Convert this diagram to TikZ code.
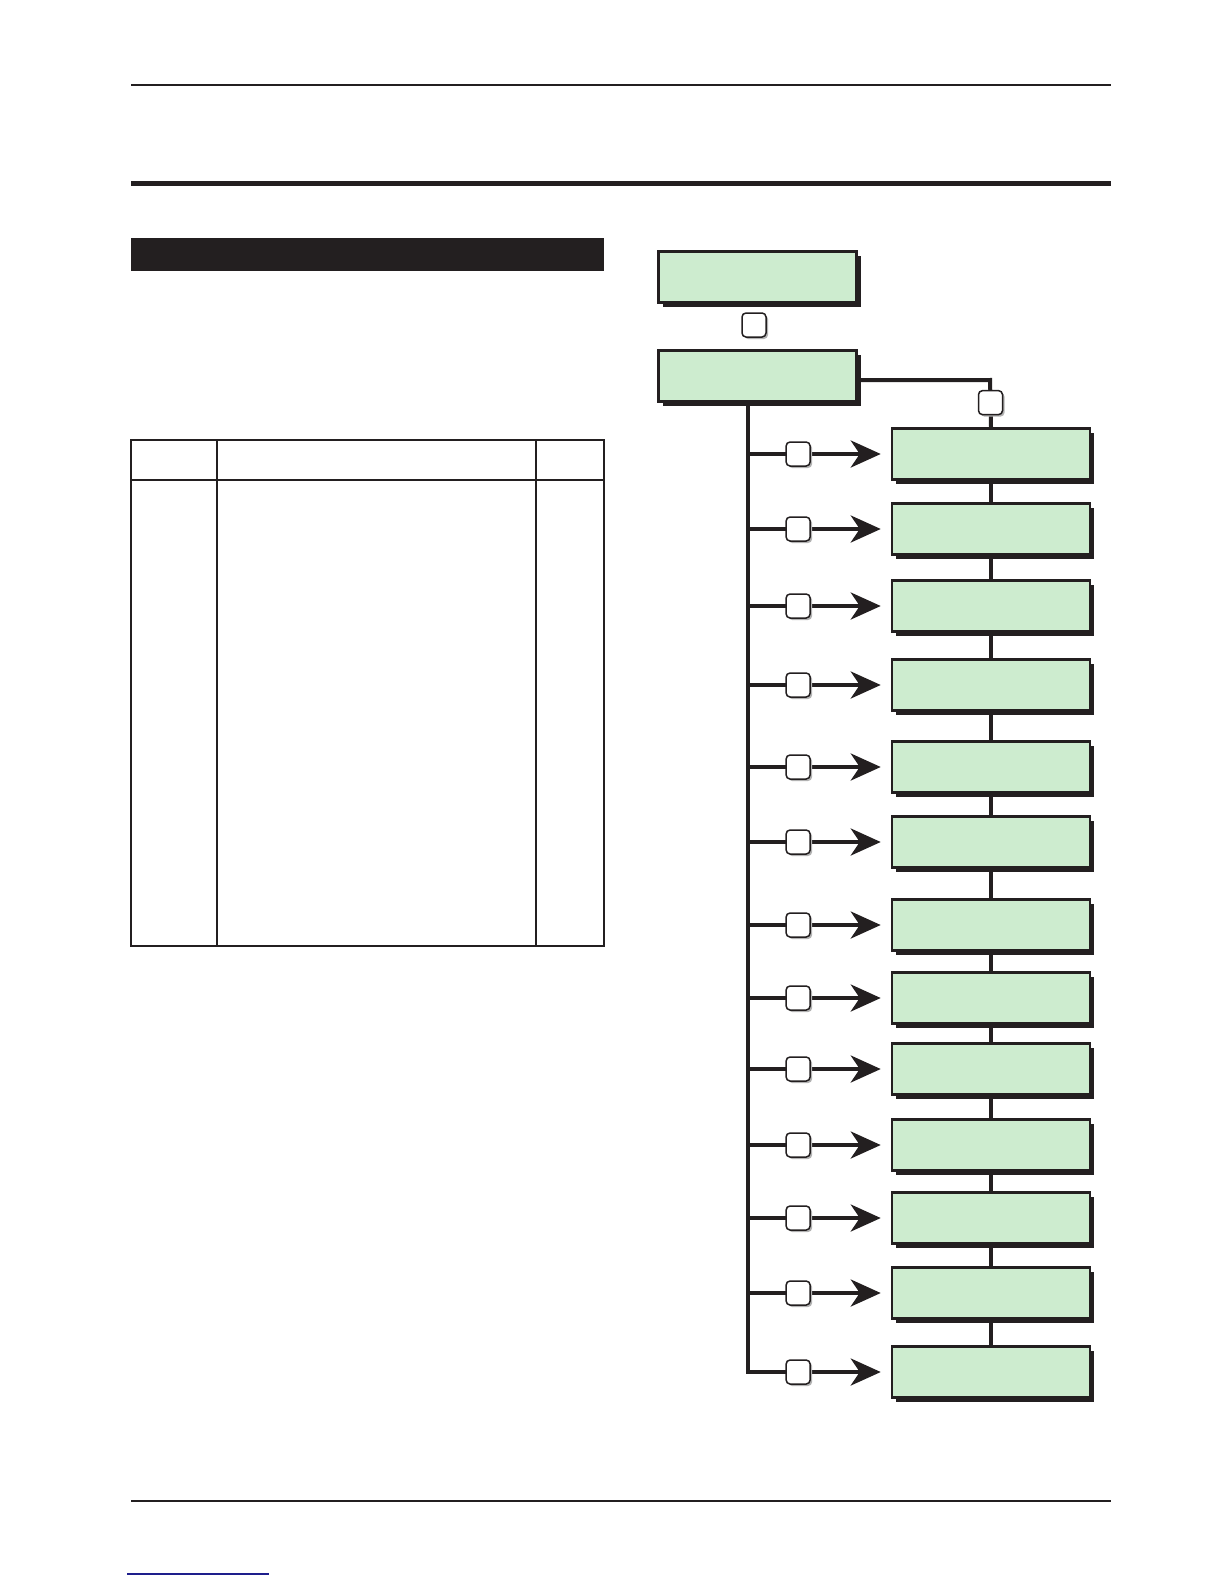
\documentclass[tikz,border=0pt]{standalone}
\usetikzlibrary{arrows.meta,shadows}
\definecolor{boxgreen}{RGB}{205,236,207}
\definecolor{ink}{RGB}{35,31,32}
\definecolor{linkblue}{RGB}{30,30,140}
\tikzset{
  gbox/.style={draw=ink, line width=2.5pt, fill=boxgreen, minimum width=198pt, minimum height=51pt, inner sep=0pt,
    drop shadow={shadow xshift=4pt, shadow yshift=-4pt, fill=ink, opacity=1}},
  sq/.style={draw=ink, line width=1.5pt, fill=white, rounded corners=4pt, minimum size=24pt, inner sep=0pt,
    drop shadow={shadow xshift=2pt, shadow yshift=-2pt, fill=gray!60, opacity=1}},
  conn/.style={draw=ink, line width=4pt},
  arr/.style={conn, -{Stealth[length=30pt,width=27pt,inset=9pt]}, shorten >=10pt},
  rule/.style={draw=ink, line width=1.2pt}
}
\begin{document}
\begin{tikzpicture}[x=1pt,y=-1pt]
\useasboundingbox (0,0) rectangle (1224,1584);
% page rules
\coordinate (tl1) at (131,85); \coordinate (tr1) at (1111,85);
\draw[draw=ink, line width=2pt] (tl1) -- (tr1);
\coordinate (tl2) at (131,183); \coordinate (tr2) at (1111,183);
\draw[draw=ink, line width=5pt] (tl2) -- (tr2);
\coordinate (bl) at (131,1501); \coordinate (br) at (1111,1501);
\draw[draw=ink, line width=2pt] (bl) -- (br);
\coordinate (ll) at (127,1574); \coordinate (lr) at (269,1574);
\draw[draw=linkblue, line width=1.2pt] (ll) -- (lr);
% black title bar
\fill[ink] (131,238) rectangle (604,271);
% table
\draw[rule] (131,440) rectangle (604,946);
\draw[rule] (217,440) -- (217,946);
\draw[rule] (536,440) -- (536,946);
\draw[rule] (131,480) -- (604,480);
% flowchart
\node[gbox] (b1) at (757.5,277) {};
\node[sq] (s0) at (754,325) {};
\node[gbox] (b2) at (757.5,376) {};
\foreach \i/\y in {1/454,2/529,3/606,4/685,5/767,6/842,7/925,8/998,9/1069,10/1145,11/1218,12/1293,13/1372}{
  \node[gbox] (r\i) at (991,\y) {};
  \coordinate (t\i) at (748,\y);
}
\coordinate (t0) at (748,401);
\coordinate (c1) at (990,380);
\coordinate (c0) at (855,380);
% vertical links between right boxes
\foreach \i/\j in {1/2,2/3,3/4,4/5,5/6,6/7,7/8,8/9,9/10,10/11,11/12,12/13}{
  \draw[conn] (r\i.south) -- (r\j.north);
}
% trunk
\draw[conn] (t0) -- ([yshift=-2pt]t13);
% top right link
\draw[conn] (c0) -- ([xshift=2pt]c1) ([xshift=0pt,yshift=2pt]c1) -- node[sq,pos=0.5]{} (r1.north);
% branch arrows
\foreach \i in {1,...,13}{
  \draw[arr] ([xshift=-2pt]t\i) -- node[sq,pos=0.36]{} (r\i.west);
}
\end{tikzpicture}
\end{document}
